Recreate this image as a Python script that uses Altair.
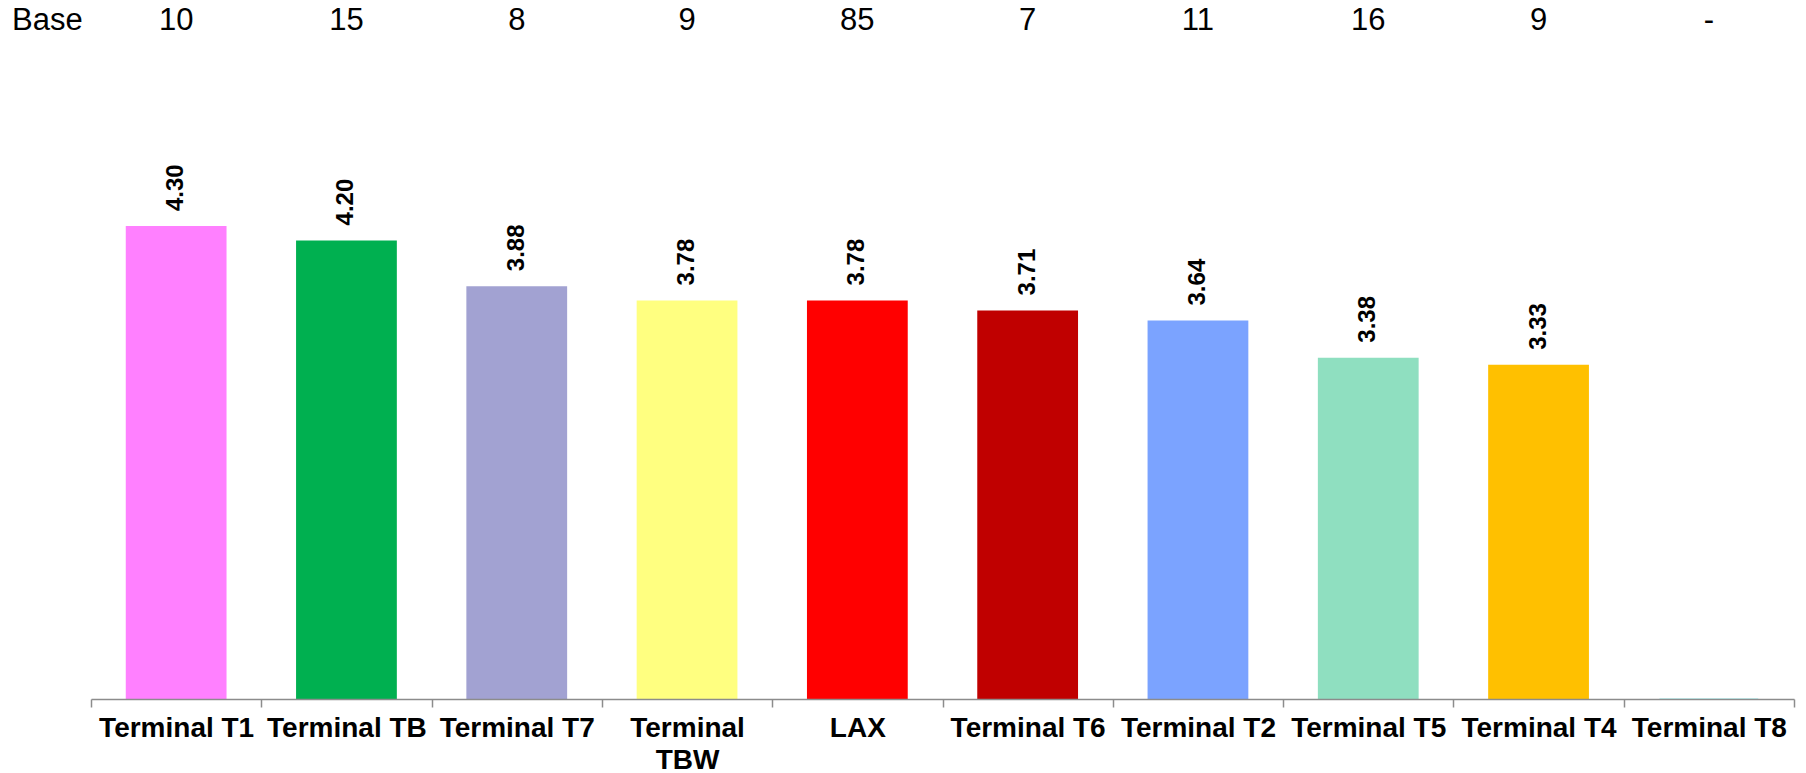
import altair as alt
import pandas as pd

# Mean scores per terminal (1-5 scale) and respondent bases
terminals = ["Terminal T1", "Terminal TB", "Terminal T7", "Terminal TBW", "LAX",
             "Terminal T6", "Terminal T2", "Terminal T5", "Terminal T4", "Terminal T8"]
scores = [4.30, 4.20, 3.88, 3.78, 3.78, 3.71, 3.64, 3.38, 3.33, None]
bases = ["10", "15", "8", "9", "85", "7", "11", "16", "9", "-"]
colors = ["#FF80FF", "#00B050", "#A2A2D2", "#FFFF80", "#FF0000",
          "#C00000", "#7BA3FF", "#8FDFC0", "#FFC000", "#C6F4F4"]

df = pd.DataFrame({"terminal": terminals, "score": scores, "base": bases, "color": colors})

FONT = "Liberation Sans, Arial, sans-serif"

x = alt.X(
    "terminal:N",
    sort=terminals,
    scale=alt.Scale(paddingInner=0, paddingOuter=0),
    axis=alt.Axis(
        title=None,
        labelAngle=0,
        labelFont=FONT,
        labelFontSize=28,
        labelFontWeight="bold",
        labelColor="#000000",
        labelPadding=7,
        labelLineHeight=32,
        labelLimit=400,
        labelExpr="length(datum.label) > 11 ? split(datum.label, ' ') : datum.label",
        tickBand="extent",
        tickSize=8,
        tickColor="#8C8C8C",
        tickWidth=1.5,
        domainColor="#8C8C8C",
        domainWidth=1.5,
        grid=False,
        zindex=1,
    ),
)

y_scale = alt.Scale(domain=[1, 5], zero=False, nice=False)

base = alt.Chart(df)

bars = base.transform_calculate(
    plotted="isValid(datum.score) ? datum.score : 1"
).mark_bar(width=alt.RelativeBandSize(0.58), strokeWidth=2).encode(
    x=x,
    y=alt.Y("plotted:Q", scale=y_scale, axis=None),
    y2=alt.datum(1),
    fill=alt.Color("color:N", scale=None),
    stroke=alt.Color("color:N", scale=None),
)

values = base.transform_filter("isValid(datum.score)").mark_text(
    angle=270, align="left", baseline="middle", dx=16,
    font=FONT, fontSize=24, fontWeight="bold", color="#000000",
).encode(
    x=alt.X("terminal:N", sort=terminals),
    y=alt.Y("score:Q", scale=y_scale),
    text=alt.Text("score:Q", format=".2f"),
)

base_row = base.mark_text(
    baseline="middle", align="center", font=FONT, fontSize=31, color="#000000",
).encode(
    x=alt.X("terminal:N", sort=terminals),
    y=alt.value(-106),
    text="base:N",
)

base_title = alt.Chart(pd.DataFrame({"t": ["Base"]})).mark_text(
    baseline="middle", align="left", font=FONT, fontSize=31, color="#000000",
).encode(
    x=alt.value(-79),
    y=alt.value(-106),
    text="t:N",
)

chart = alt.layer(bars, values, base_row, base_title).properties(
    width=1703,
    height=572,
    padding={"left": 91, "top": 127, "right": 12, "bottom": 74},
    autosize=alt.AutoSizeParams(type="none"),
    background="#FFFFFF",
).configure_view(stroke=None)

chart.save("out.html", embed_options={"renderer": "svg", "actions": False})
